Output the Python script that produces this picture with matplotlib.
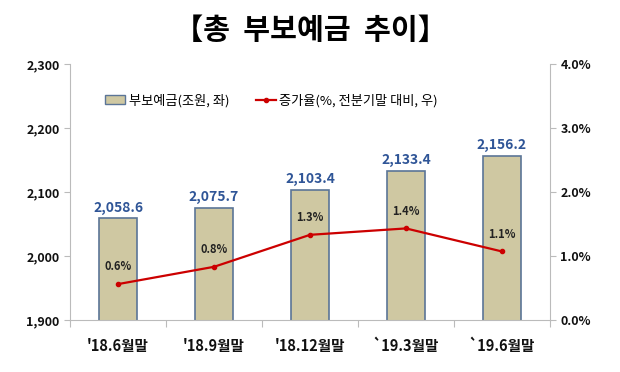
import matplotlib
matplotlib.use("Agg")
import matplotlib.pyplot as plt
from matplotlib.ticker import FuncFormatter, FixedLocator
from matplotlib.lines import Line2D
from matplotlib.patches import Patch

plt.rcParams['font.family'] = ['Noto Sans CJK KR', 'DejaVu Sans']

categories = ["'18.6월말", "'18.9월말", "'18.12월말", "`19.3월말", "`19.6월말"]
deposits = [2058.6, 2075.7, 2103.4, 2133.4, 2156.2]
growth = [0.56, 0.83, 1.33, 1.43, 1.07]
growth_labels = ["0.6%", "0.8%", "1.3%", "1.4%", "1.1%"]

fig = plt.figure(figsize=(6.2, 3.72), dpi=100)
ax = fig.add_axes([0.113, 0.140, 0.774, 0.688])
x = list(range(len(categories)))
ax.bar(x, deposits, width=0.4, color='#CFC8A2', edgecolor='#5B7597', linewidth=1.2, zorder=2)
ax.set_ylim(1900, 2300)
ax.set_xlim(-0.5, len(categories) - 0.5)
ax.yaxis.set_major_locator(FixedLocator([1900, 2000, 2100, 2200, 2300]))
ax.yaxis.set_major_formatter(FuncFormatter(lambda v, p: f"{v:,.0f}"))
for xi, v in zip(x, deposits):
    ax.text(xi, v + 6, f"{v:,.1f}", ha='center', va='bottom', color='#2F5597',
            fontsize=10, fontweight='bold')

ax2 = ax.twinx()
ax2.plot(x, growth, color='#CC0000', linewidth=1.6, marker='o', markersize=3, zorder=3)
ax2.set_ylim(0, 4.0)
ax2.yaxis.set_major_locator(FixedLocator([0, 1, 2, 3, 4]))
ax2.yaxis.set_major_formatter(FuncFormatter(lambda v, p: f"{v:.1f}%"))
for xi, v, lab in zip(x, growth, growth_labels):
    ax2.text(xi, v + 0.17, lab, ha='center', va='bottom', color='#222222',
             fontsize=8, fontweight='bold')

for a in (ax, ax2):
    a.spines['top'].set_visible(False)
    for s in ('left', 'right', 'bottom'):
        a.spines[s].set_color('#BBBBBB')
    a.tick_params(axis='y', colors='#BBBBBB', labelcolor='#111111', labelsize=9, length=4)
ax.spines['right'].set_visible(False)
ax2.spines['left'].set_visible(False)
ax2.spines['bottom'].set_visible(False)

ax.set_xticks([i - 0.5 for i in range(len(categories) + 1)])
ax.set_xticklabels([])
ax.set_xticks(x, minor=True)
ax.set_xticklabels(categories, minor=True, fontsize=10.5, fontweight='bold')
ax.tick_params(axis='x', which='major', length=5, colors='#BBBBBB')
ax.tick_params(axis='x', which='minor', length=0, pad=13, labelcolor='#111111')
for lab in ax.get_yticklabels() + ax2.get_yticklabels():
    lab.set_fontweight('bold')

handles = [Patch(facecolor='#CFC8A2', edgecolor='#5B7597', label='부보예금(조원, 좌)'),
           Line2D([0], [0], color='#CC0000', lw=1.6, marker='o', markersize=3,
                  label='증가율(%, 전분기말 대비, 우)')]
ax.legend(handles=handles, loc='upper center', bbox_to_anchor=(0.42, 0.93), ncol=2,
          frameon=False, fontsize=9.5, handlelength=1.5, handletextpad=0.3, columnspacing=2.0)

fig.text(0.5, 0.92, '【총  부보예금  추이】', ha='center', va='center', fontsize=21, fontweight='bold')

fig.savefig('out.png', dpi=100)
